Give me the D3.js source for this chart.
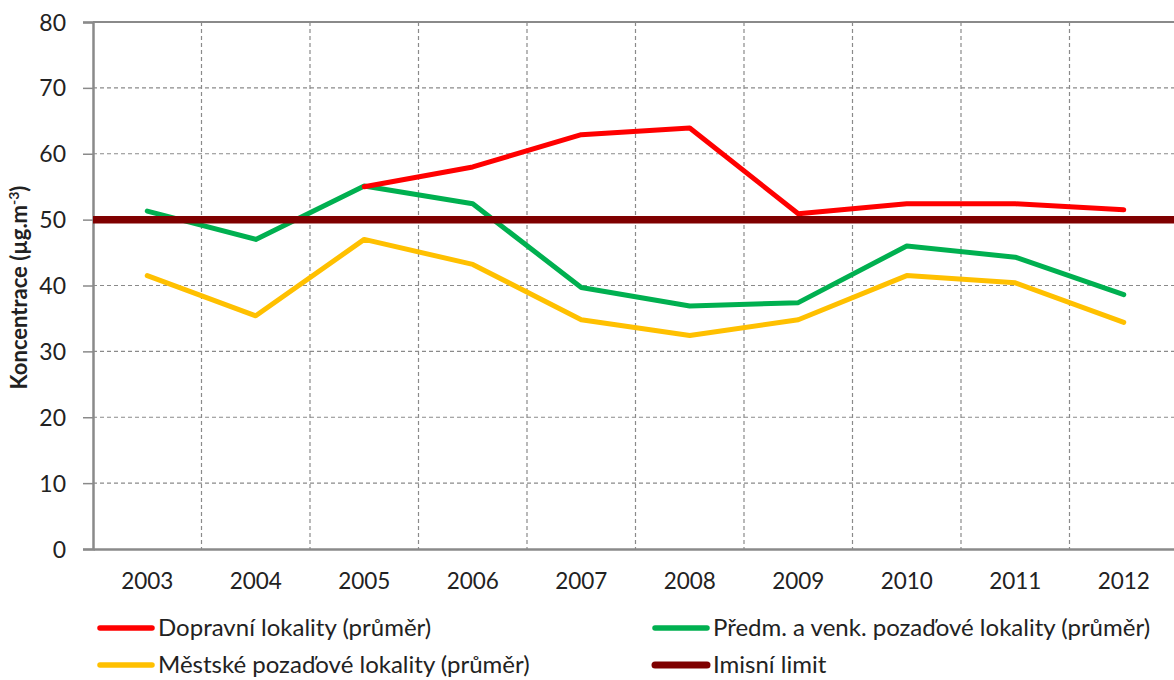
<!DOCTYPE html>
<html><head><meta charset="utf-8">
<script src="https://cdn.jsdelivr.net/npm/d3@7"></script>
<style>body{margin:0;background:#fff;overflow:hidden}svg{display:block}text{font-family:Lato,"Open Sans",sans-serif;fill:#222}</style>
</head><body>
<svg id="c" width="1174" height="680"></svg>
<script>
const years = ["2003","2004","2005","2006","2007","2008","2009","2010","2011","2012"];
const dopravni = [null, null, 55.0, 58.0, 62.9, 63.9, 50.9, 52.4, 52.4, 51.5];
const predm = [51.3, 47.0, 55.1, 52.4, 39.7, 36.9, 37.4, 46.0, 44.3, 38.6];
const mestske = [41.5, 35.4, 47.0, 43.2, 34.8, 32.4, 34.8, 41.5, 40.4, 34.4];
const limit = [50, 50, 50, 50, 50, 50, 50, 50, 50, 50];
const yTicks = [0, 10, 20, 30, 40, 50, 60, 70, 80];
const seriesNames = ["Dopravní lokality (průměr)", "Předm. a venk. pozaďové lokality (průměr)", "Městské pozaďové lokality (průměr)", "Imisní limit"];

const svg = d3.select("#c");
const L = 93, R = 1178, T = 22, B = 549;
const x = d3.scaleBand().domain(years).range([L, R]);
const y = d3.scaleLinear().domain([0, 80]).range([B, T]);
const grid = "#8a8a8a";

// horizontal gridlines
svg.append("g").selectAll("line").data(yTicks.filter(d => d > 0 && d < 80)).join("line")
  .attr("x1", L).attr("x2", R).attr("y1", d => y(d)).attr("y2", d => y(d))
  .attr("stroke", grid).attr("stroke-width", 1.2).attr("stroke-dasharray", "4,3");
// vertical gridlines at category boundaries
svg.append("g").selectAll("line").data(years.slice(1)).join("line")
  .attr("x1", d => x(d)).attr("x2", d => x(d)).attr("y1", T).attr("y2", B)
  .attr("stroke", grid).attr("stroke-width", 1.2).attr("stroke-dasharray", "4,3");
// top border
svg.append("line").attr("x1", L).attr("x2", R).attr("y1", T).attr("y2", T).attr("stroke", grid).attr("stroke-width", 2);

// y axis
const yAxis = d3.axisLeft(y).tickValues(yTicks).tickSize(10).tickPadding(17);
const gy = svg.append("g").attr("transform", `translate(${L},0)`).call(yAxis);
gy.select(".domain").attr("stroke", grid).attr("stroke-width", 2.5);
gy.selectAll(".tick line").attr("stroke", grid).attr("stroke-width", 1.5);
gy.selectAll("text").style("font-size", "23px").attr("fill", "#222").attr("dy", "0.35em");

// x axis
const xAxis = d3.axisBottom(x).tickSize(0).tickPadding(24);
const gx = svg.append("g").attr("transform", `translate(0,${B})`).call(xAxis);
gx.select(".domain").attr("stroke", grid).attr("stroke-width", 2.5);
gx.selectAll("text").style("font-size", "22.5px").attr("fill", "#222");

// y label
svg.append("text").attr("transform", `translate(27,${(T + B) / 2 + 2}) rotate(-90)`)
  .attr("text-anchor", "middle").style("font-size", "22px").style("font-weight", "bold")
  .html('Koncentrace (µg.m<tspan dy="-8" style="font-size:14px">-3</tspan><tspan dy="8">)</tspan>');

const line = d3.line().defined(d => d[1] != null)
  .x(d => x(d[0]) + x.bandwidth() / 2).y(d => y(d[1]));
const series = [
  {vals: mestske, color: "#FFC000", w: 5},
  {vals: predm, color: "#00B050", w: 5},
  {vals: dopravni, color: "#FF0000", w: 5},
];
series.forEach(s => {
  svg.append("path").datum(years.map((yr, i) => [yr, s.vals[i]]))
    .attr("d", line).attr("fill", "none").attr("stroke", s.color)
    .attr("stroke-width", s.w).attr("stroke-linejoin", "round").attr("stroke-linecap", "round");
});
// limit line spanning the plot
const limLine = d3.line().x((d, i) => i === 0 ? L : R).y(d => y(d));
svg.append("path").datum([limit[0], limit[limit.length - 1]]).attr("d", limLine)
  .attr("stroke", "#7F0000").attr("stroke-width", 7.5).attr("fill", "none");

// legend
const legend = [
  {name: seriesNames[0], color: "#FF0000", w: 5.5, lx: 100, ly: 628},
  {name: seriesNames[1], color: "#00B050", w: 5.5, lx: 655, ly: 628},
  {name: seriesNames[2], color: "#FFC000", w: 5.5, lx: 100, ly: 665},
  {name: seriesNames[3], color: "#7F0000", w: 7, lx: 655, ly: 665},
];
const lg = svg.append("g").selectAll("g").data(legend).join("g")
  .attr("transform", d => `translate(${d.lx},${d.ly})`);
lg.append("line").attr("x1", 0).attr("x2", 52).attr("stroke", d => d.color)
  .attr("stroke-width", d => d.w).attr("stroke-linecap", "round");
lg.append("text").attr("x", 58).attr("dy", "0.34em").style("font-size", "24px").text(d => d.name);
</script>
</body></html>
